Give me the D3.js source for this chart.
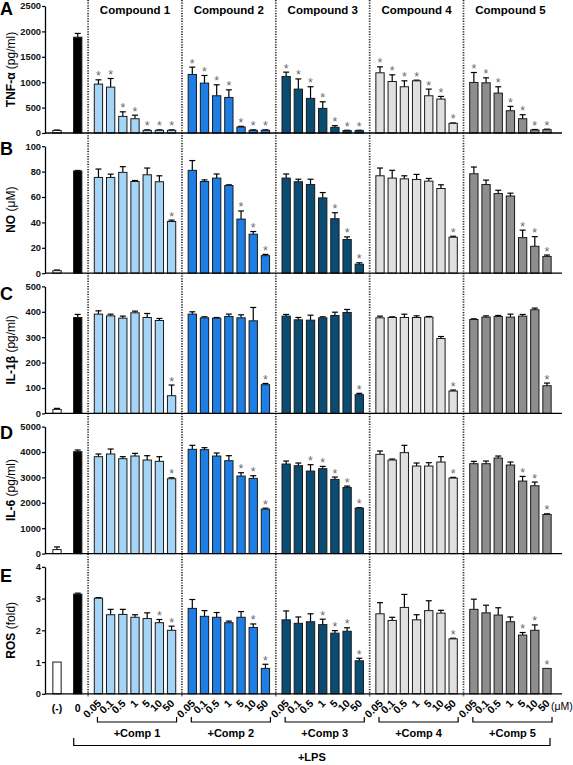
<!DOCTYPE html>
<html>
<head>
<meta charset="utf-8">
<script src="https://cdn.jsdelivr.net/npm/d3@7"></script>
<style>
  body { margin: 0; background: #fff; }
  svg { display: block; font-family: "Liberation Sans", Arial, sans-serif; }
</style>
</head>
<body>
<div id="chart"></div>
<script>
// ---- data (order: (-), 0, Comp1 x7, Comp2 x7, Comp3 x7, Comp4 x7, Comp5 x7) ----
const compounds = ["Compound 1", "Compound 2", "Compound 3", "Compound 4", "Compound 5"]
const compShort = ["+Comp 1", "+Comp 2", "+Comp 3", "+Comp 4", "+Comp 5"]
const ctrlLabels = ["(-)", "0"]
const concLabels = ["0.05", "0.1", "0.5", "1", "5", "10", "50"]

const tnfMean = [50, 1885, 962, 903, 327, 281, 52, 52, 52, 1152, 982, 733, 700, 118, 52, 52,
  1113, 864, 681, 484, 111, 46, 46, 1185, 1014, 910, 1027, 733, 668, 190, 995, 988, 785, 438, 281, 59, 65]
const tnfErr = [8, 75, 85, 170, 90, 70, 10, 10, 10, 145, 150, 216, 150, 13, 10, 10,
  85, 200, 230, 130, 33, 8, 8, 117, 131, 117, 13, 131, 52, 8, 196, 98, 125, 86, 79, 10, 10]
const tnfSig = [[0, 1, 2, 3, 4, 5, 6], [0, 1, 2, 3, 4, 5, 6], [0, 1, 2, 3, 4, 5, 6], [0, 1, 2, 3, 4, 5, 6], [0, 1, 2, 3, 4, 5, 6]]

const noMean = [2, 80.5, 75.4, 75.4, 79.4, 72.2, 77.5, 72, 40.7, 81, 72.2, 74.9, 69, 42.6, 30.7, 13.8,
  74.9, 72, 69.8, 59.3, 42.9, 26.5, 7.1, 76.7, 74.9, 74.3, 73.8, 72.5, 66.7, 28.3, 78.3, 69.8, 62.7, 60.8, 28, 21.2, 13.2]
const noErr = [0.5, 0.4, 6.6, 2.6, 4.5, 0.8, 5.3, 4.7, 1.1, 7.7, 1.3, 3.2, 0.6, 6.4, 2.1, 1,
  3.2, 2, 4.2, 4.2, 4.7, 2.1, 1.1, 6.1, 6.1, 2.4, 4, 2.1, 2.9, 0.8, 5.3, 3.5, 2.6, 2.2, 5.9, 7.6, 1.1]
const noSig = [[6], [4, 5, 6], [4, 5, 6], [6], [4, 5, 6]]

const il1Mean = [15.8, 377.6, 390.8, 384, 375, 396, 377.6, 365.8, 69.7, 390.8, 376.3, 375, 381.6, 376.3, 364.5, 113,
  383, 368.4, 367, 376.3, 385.5, 397.4, 73.7, 376.3, 377.6, 377.6, 377.6, 379, 294.7, 88, 369.7, 379, 381.6, 379, 383, 408, 109]
const il1Err = [4, 12, 13, 6.6, 8, 6.6, 15.8, 8, 42, 9.2, 4, 2.6, 9.2, 11.8, 52.6, 5,
  6.6, 9.2, 19.7, 4, 13, 11.8, 5.3, 6.6, 2.6, 13, 6.6, 2.6, 8, 4, 2.6, 5, 4, 11.8, 6.6, 6.6, 10.5]
const il1Sig = [[6], [6], [6], [6], [6]]

const il6Mean = [158, 4013, 3816, 3921, 3737, 3842, 3684, 3632, 2947, 4105, 4092, 3842, 3658, 3053, 2961, 1750,
  3526, 3461, 3250, 3342, 2921, 2605, 1789, 3908, 3684, 3974, 3447, 3447, 3605, 2974, 3539, 3539, 3763, 3487, 2855, 2671, 1539]
const il6Err = [105, 66, 105, 197, 79, 105, 171, 184, 40, 158, 79, 118, 197, 131, 105, 39,
  119, 105, 250, 92, 92, 53, 20, 131, 40, 289, 119, 132, 211, 26, 93, 106, 79, 118, 184, 145, 27]
const il6Sig = [[6], [4, 5, 6], [2, 3, 4, 5, 6], [6], [4, 5, 6]]

const rosMean = [1.0, 3.14, 3.01, 2.49, 2.5, 2.41, 2.37, 2.24, 2.0, 2.69, 2.44, 2.41, 2.24, 2.41, 2.09, 0.8,
  2.33, 2.22, 2.27, 2.18, 1.91, 1.97, 1.04, 2.52, 2.31, 2.72, 2.33, 2.62, 2.54, 1.73, 2.66, 2.55, 2.48, 2.27, 1.85, 2.0, 0.8]
const rosErr = [0, 0.03, 0.02, 0.17, 0.16, 0.08, 0.18, 0.1, 0.13, 0.28, 0.18, 0.15, 0.05, 0.18, 0.11, 0.13,
  0.28, 0.2, 0.25, 0.17, 0.08, 0.11, 0.08, 0.35, 0.1, 0.41, 0.16, 0.31, 0.09, 0.02, 0.32, 0.24, 0.23, 0.15, 0.08, 0.17, 0]
const rosSig = [[5, 6], [5, 6], [3, 4, 5, 6], [6], [4, 5, 6]]

const yTicks = {
  A: [0, 500, 1000, 1500, 2000, 2500],
  B: [0, 20, 40, 60, 80, 100],
  C: [0, 100, 200, 300, 400, 500],
  D: [0, 1000, 2000, 3000, 4000, 5000],
  E: [0, 1, 2, 3, 4]
}

// ---- layout ----
const width = 573, height = 765
const ctrlColors = ["#ffffff", "#000000"]
const groupColors = ["#a4d5f6", "#1d7fe5", "#0b4c73", "#e0e0e0", "#8e8e8e"]
const barW = 8.3
const axisLeft = 45, axisRight = 562

const panels = [
  { letter: "A", title: "TNF-α", unit: " (pg/ml)", mean: tnfMean, err: tnfErr, sig: tnfSig, letterDy: 9 },
  { letter: "B", title: "NO", unit: " (μM)", mean: noMean, err: noErr, sig: noSig, letterDy: 9 },
  { letter: "C", title: "IL-1β", unit: " (pg/ml)", mean: il1Mean, err: il1Err, sig: il1Sig, letterDy: 14 },
  { letter: "D", title: "IL-6", unit: " (pg/ml)", mean: il6Mean, err: il6Err, sig: il6Sig, letterDy: 12 },
  { letter: "E", title: "ROS", unit: " (fold)", mean: rosMean, err: rosErr, sig: rosSig, letterDy: 15 }
]

// slot position of bar i (gaps of 1.7 slots between groups)
const slot = i => i === 0 ? 0 : i === 1 ? 1.7 : 3.4 + Math.floor((i - 2) / 7) * 7.7 + (i - 2) % 7
const x = d3.scaleLinear().domain([0, slot(36)]).range([57, 547])
const barColor = i => i < 2 ? ctrlColors[i] : groupColors[Math.floor((i - 2) / 7)]
const isSig = (p, i) => i >= 2 && p.sig[Math.floor((i - 2) / 7)].includes((i - 2) % 7)

const svg = d3.select("#chart")
  .append("svg")
  .attr("width", width)
  .attr("height", height)

// dotted separators between groups
const sepX = d3.range(5).map(g => (x(slot(1 + g * 7)) + x(slot(2 + g * 7))) / 2)
svg.append("g")
  .selectAll("line")
  .data(sepX)
  .join("line")
  .attr("x1", d => d).attr("x2", d => d)
  .attr("y1", 0).attr("y2", 697)
  .attr("stroke", "#2a2a2a")
  .attr("stroke-width", 1.7)
  .attr("stroke-dasharray", "1.2,1.4")

// compound titles
svg.append("g")
  .selectAll("text")
  .data(compounds)
  .join("text")
  .attr("x", (d, g) => (x(slot(2 + g * 7)) + x(slot(8 + g * 7))) / 2)
  .attr("y", 14)
  .attr("text-anchor", "middle")
  .attr("font-size", 11.5)
  .attr("font-weight", "bold")
  .text(d => d)

panels.forEach((p, pi) => {
  const top = 6 + 140.2 * pi, bottom = top + 127
  const ticks = yTicks[p.letter]
  const y = d3.scaleLinear().domain([0, ticks[ticks.length - 1]]).range([bottom, top])
  const idx = d3.range(p.mean.length)
  const g = svg.append("g")

  // error bars (upper only)
  const eb = g.append("g")
    .attr("stroke", "#000")
    .attr("stroke-width", 1.2)
    .selectAll("g")
    .data(idx.filter(i => p.err[i] > 0))
    .join("g")
  eb.append("line")
    .attr("x1", i => x(slot(i))).attr("x2", i => x(slot(i)))
    .attr("y1", i => y(p.mean[i])).attr("y2", i => y(p.mean[i] + p.err[i]))
  eb.append("line")
    .attr("x1", i => x(slot(i)) - 3).attr("x2", i => x(slot(i)) + 3)
    .attr("y1", i => y(p.mean[i] + p.err[i])).attr("y2", i => y(p.mean[i] + p.err[i]))

  // bars
  g.append("g")
    .selectAll("rect")
    .data(idx)
    .join("rect")
    .attr("x", i => x(slot(i)) - barW / 2)
    .attr("width", barW)
    .attr("y", i => y(p.mean[i]))
    .attr("height", i => y(0) - y(p.mean[i]))
    .attr("fill", barColor)
    .attr("stroke", "#1a1a1a")
    .attr("stroke-width", 1)

  // significance stars
  g.append("g")
    .selectAll("text")
    .data(idx.filter(i => isSig(p, i)))
    .join("text")
    .attr("x", i => x(slot(i)))
    .attr("y", i => y(p.mean[i] + p.err[i]) + 0.5)
    .attr("text-anchor", "middle")
    .attr("font-size", 12.5)
    .attr("fill", "#6a6a6a")
    .text("*")

  // y axis
  g.append("g")
    .attr("transform", `translate(${axisLeft},0)`)
    .call(d3.axisLeft(y).tickValues(ticks).tickFormat(d3.format("d")).tickSize(3).tickPadding(1).tickSizeOuter(0))
    .call(a => a.select(".domain").attr("stroke-width", 1.3))
    .call(a => a.selectAll(".tick line").attr("stroke-width", 1.2))
    .call(a => a.selectAll("text")
      .attr("font-family", "Liberation Sans, Arial, sans-serif")
      .attr("font-size", 9.3)
      .attr("font-weight", "bold")
      .attr("fill", "#111"))

  // baseline
  g.append("line")
    .attr("x1", axisLeft).attr("x2", axisRight)
    .attr("y1", y(0)).attr("y2", y(0))
    .attr("stroke", "#000")
    .attr("stroke-width", 1.3)

  // y title
  const t = g.append("text")
    .attr("transform", `translate(15,${(top + bottom) / 2}) rotate(-90)`)
    .attr("text-anchor", "middle")
    .attr("font-size", 12)
  t.append("tspan").attr("font-weight", "bold").text(p.title)
  t.append("tspan").text(p.unit)

  // panel letter
  g.append("text")
    .attr("x", 0)
    .attr("y", top + p.letterDy)
    .attr("font-size", 18)
    .attr("font-weight", "bold")
    .text(p.letter)
})

// x labels under panel E
const xl = svg.append("g").attr("font-weight", "bold").attr("font-size", 10.5)
xl.selectAll("text.ctrl")
  .data(ctrlLabels)
  .join("text")
  .attr("class", "ctrl")
  .attr("x", (d, i) => x(slot(i)))
  .attr("y", 712)
  .attr("text-anchor", "middle")
  .text(d => d)

xl.selectAll("text.conc")
  .data(d3.range(2, 37))
  .join("text")
  .attr("class", "conc")
  .attr("transform", i => `translate(${x(slot(i)) + 3.5},${704}) rotate(-45)`)
  .attr("text-anchor", "end")
  .text(i => concLabels[(i - 2) % 7])

svg.append("text")
  .attr("x", 551)
  .attr("y", 710)
  .attr("font-size", 10.5)
  .text("(μM)")

// brackets
const br = svg.append("g").attr("stroke", "#000").attr("stroke-width", 1.2).attr("fill", "none")
compShort.forEach((c, g) => {
  const x0 = x(slot(2 + g * 7)) - 1, x1 = x(slot(8 + g * 7)) + 5
  br.append("path").attr("d", `M${x0},717V722H${x1}V717`)
  svg.append("text")
    .attr("x", (x0 + x1) / 2)
    .attr("y", 737)
    .attr("text-anchor", "middle")
    .attr("font-size", 11)
    .attr("font-weight", "bold")
    .text(c)
})
const lx0 = x(slot(1)) - 4, lx1 = x(slot(36)) + 3
br.append("path").attr("d", `M${lx0},738V745.5H${lx1}V738`)
svg.append("text")
  .attr("x", (lx0 + lx1) / 2)
  .attr("y", 761)
  .attr("text-anchor", "middle")
  .attr("font-size", 11)
  .attr("font-weight", "bold")
  .text("+LPS")
</script>
</body>
</html>
